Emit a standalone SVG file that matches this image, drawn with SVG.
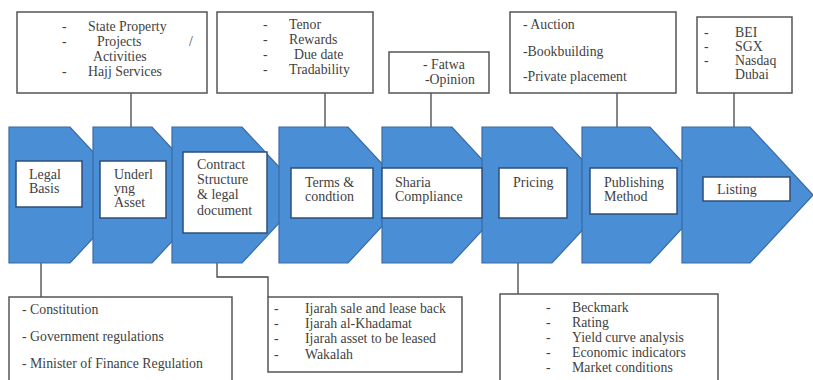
<svg xmlns="http://www.w3.org/2000/svg" width="813" height="380" viewBox="0 0 813 380">
<style>
.chev{fill:#4a8ed6;stroke:#3a6ba3;stroke-width:1.2}
.inner{fill:#fff;stroke:#2f4f7a;stroke-width:1.5}
.box{fill:#fff;stroke:#555;stroke-width:1.5}
.t{font-family:"Liberation Serif","Times New Roman",serif;font-size:13.8px;fill:#3f3f3f}
.ti{font-family:"Liberation Serif","Times New Roman",serif;font-size:14px;fill:#3f3f3f}
.con{fill:none;stroke:#444;stroke-width:1.3}
</style>
<rect width="813" height="380" fill="#fff"/>
<g id="connectors">
<path class="con" d="M131 93V127"/>
<path class="con" d="M325 93V127"/>
<path class="con" d="M431 93V127"/>
<path class="con" d="M617 93V127"/>
<path class="con" d="M734 93V127"/>
<path class="con" d="M41 263V297"/>
<path class="con" d="M217 263V277H268V297"/>
<path class="con" d="M518 263V294"/>
</g>
<g id="chevrons">
<path class="chev" d="M9 127H70L133 195L70 263H9Z"/>
<path class="chev" d="M93 127H152L215 195L152 263H93Z"/>
<path class="chev" d="M172 127H242L305 195L242 263H172Z"/>
<path class="chev" d="M279 127H348L411 195L348 263H279Z"/>
<path class="chev" d="M382 127H452L515 195L452 263H382Z"/>
<path class="chev" d="M482 127H552L615 195L552 263H482Z"/>
<path class="chev" d="M582 127H650L713 195L650 263H582Z"/>
<path class="chev" d="M682 127H750L813 195L750 263H682Z"/>
</g>
<g id="legal-basis">
<rect class="inner" x="16" y="161" width="66" height="46"/>
<text class="ti" x="29" y="179">Legal</text>
<text class="ti" x="29" y="193">Basis</text>
</g>
<g id="underlying-asset">
<rect class="inner" x="100" y="161" width="66" height="57"/>
<text class="ti" x="114" y="179">Underl</text>
<text class="ti" x="114" y="193">yng</text>
<text class="ti" x="114" y="207">Asset</text>
</g>
<g id="contract-structure">
<rect class="inner" x="183" y="152" width="84" height="81"/>
<text class="ti" x="197" y="169">Contract</text>
<text class="ti" x="197" y="184">Structure</text>
<text class="ti" x="197" y="199">&amp; legal</text>
<text class="ti" x="197" y="215">document</text>
</g>
<g id="terms">
<rect class="inner" x="291" y="168" width="82" height="50"/>
<text class="ti" x="305" y="187">Terms &amp;</text>
<text class="ti" x="305" y="201">condtion</text>
</g>
<g id="sharia">
<rect class="inner" x="382" y="168" width="100" height="50"/>
<text class="ti" x="395" y="187">Sharia</text>
<text class="ti" x="395" y="201">Compliance</text>
</g>
<g id="pricing">
<rect class="inner" x="499" y="168" width="68" height="50"/>
<text class="ti" x="513" y="187">Pricing</text>
</g>
<g id="publishing">
<rect class="inner" x="590" y="168" width="87" height="46"/>
<text class="ti" x="604" y="187">Publishing</text>
<text class="ti" x="604" y="201">Method</text>
</g>
<g id="listing">
<rect class="inner" x="703" y="177" width="87" height="24"/>
<text class="ti" x="717" y="194">Listing</text>
</g>
<g id="asset-list">
<rect class="box" x="17" y="12" width="190" height="81"/>
<text class="t" x="62" y="31">-</text>
<text class="t" x="88" y="31">State Property</text>
<text class="t" x="62" y="46">-</text>
<text class="t" x="97" y="46">Projects</text>
<text class="t" x="189" y="46">/</text>
<text class="t" x="93" y="61">Activities</text>
<text class="t" x="62" y="76">-</text>
<text class="t" x="88" y="76">Hajj Services</text>
</g>
<g id="terms-list">
<rect class="box" x="217" y="12" width="156" height="81"/>
<text class="t" x="263" y="29">-</text>
<text class="t" x="289" y="29">Tenor</text>
<text class="t" x="263" y="44">-</text>
<text class="t" x="289" y="44">Rewards</text>
<text class="t" x="263" y="59">-</text>
<text class="t" x="294" y="59">Due date</text>
<text class="t" x="263" y="74">-</text>
<text class="t" x="289" y="74">Tradability</text>
</g>
<g id="sharia-list">
<rect class="box" x="389" y="52" width="100" height="41"/>
<text class="t" x="423" y="69">- Fatwa</text>
<text class="t" x="425" y="84">-Opinion</text>
</g>
<g id="publishing-list">
<rect class="box" x="510" y="12" width="166" height="81"/>
<text class="t" x="523" y="29">- Auction</text>
<text class="t" x="523" y="56">-Bookbuilding</text>
<text class="t" x="523" y="81">-Private placement</text>
</g>
<g id="listing-list">
<rect class="box" x="697" y="17" width="95" height="76"/>
<text class="t" x="704" y="37">-</text>
<text class="t" x="735" y="37">BEI</text>
<text class="t" x="704" y="51">-</text>
<text class="t" x="735" y="51">SGX</text>
<text class="t" x="704" y="65">-</text>
<text class="t" x="735" y="65">Nasdaq</text>
<text class="t" x="735" y="79">Dubai</text>
</g>
<g id="legal-list">
<rect class="box" x="9" y="297" width="223" height="90"/>
<text class="t" x="22" y="314">- Constitution</text>
<text class="t" x="22" y="341">- Government regulations</text>
<text class="t" x="22" y="368">- Minister of Finance Regulation</text>
</g>
<g id="contract-list">
<rect class="box" x="268" y="297" width="194" height="75"/>
<text class="t" x="274" y="313">-</text>
<text class="t" x="305" y="313">Ijarah sale and lease back</text>
<text class="t" x="274" y="328">-</text>
<text class="t" x="305" y="328">Ijarah al-Khadamat</text>
<text class="t" x="274" y="343">-</text>
<text class="t" x="305" y="343">Ijarah asset to be leased</text>
<text class="t" x="274" y="359">-</text>
<text class="t" x="305" y="359">Wakalah</text>
</g>
<g id="pricing-list">
<rect class="box" x="500" y="294" width="218" height="93"/>
<text class="t" x="546" y="312">-</text>
<text class="t" x="572" y="312">Beckmark</text>
<text class="t" x="546" y="327">-</text>
<text class="t" x="572" y="327">Rating</text>
<text class="t" x="546" y="342">-</text>
<text class="t" x="572" y="342">Yield curve analysis</text>
<text class="t" x="546" y="357">-</text>
<text class="t" x="572" y="357">Economic indicators</text>
<text class="t" x="546" y="372">-</text>
<text class="t" x="572" y="372">Market conditions</text>
</g>
</svg>
